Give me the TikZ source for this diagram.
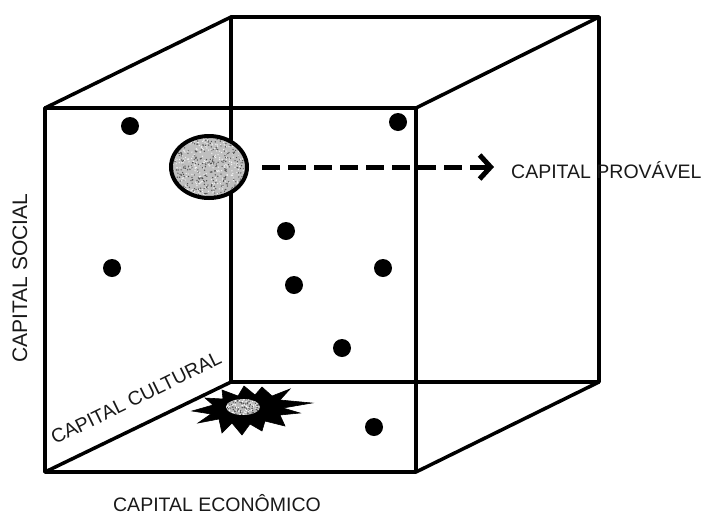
\documentclass[tikz,border=0pt]{standalone}
\usepackage{fontspec}
\setmainfont{Liberation Sans}
\usetikzlibrary{arrows.meta,shapes.geometric}
\begin{document}
\begin{tikzpicture}[x=1pt,y=-1pt,
  edge/.style={line width=3.5pt,line cap=round,line join=round},
  dot/.style={circle,fill=black,inner sep=0pt,minimum size=18pt},
  lbl/.style={font=\fontsize{19.5}{21}\selectfont,inner sep=0pt,text=black!90}]
\useasboundingbox[fill=white] (0,0) rectangle (702,515);
% cube corners
\coordinate (f1) at (45,108);
\coordinate (f2) at (416,108);
\coordinate (f3) at (416,472);
\coordinate (f4) at (45,472);
\coordinate (b1) at (231,17);
\coordinate (b2) at (599,17);
\coordinate (b3) at (599,382);
\coordinate (b4) at (231,382);
% back face
\draw[edge] (b1) -- (b2) -- (b3) -- (b4) -- cycle;
% connecting edges
\draw[edge] (f1) -- (b1);
\draw[edge] (f2) -- (b2);
\draw[edge] (f3) -- (b3);
\draw[edge] (f4) -- (b4);
% front face
\draw[edge] (f1) -- (f2) -- (f3) -- (f4) -- cycle;
% dots
\node[dot] (d1) at (130,126) {};
\node[dot] (d2) at (398,122) {};
\node[dot] (d3) at (286,231) {};
\node[dot] (d4) at (112,268) {};
\node[dot] (d5) at (294,285) {};
\node[dot] (d6) at (383,268) {};
\node[dot] (d7) at (342,348) {};
\node[dot] (d8) at (374,427) {};
% ellipse
\node[ellipse,fill=gray!50,minimum width=76pt,minimum height=62pt,inner sep=0pt] (ell) at (209,167) {};
\begin{scope}
\clip (209,167) ellipse [x radius=38pt,y radius=31pt];
\pgfmathsetseed{7}
\foreach \i in {1,...,350} {
  \fill[black!70] (171+76*rnd,136+62*rnd) circle[radius=0.7pt];
  \fill[white!90!gray] (171+76*rnd,136+62*rnd) circle[radius=0.7pt];
}
\end{scope}
\draw[line width=4pt] (ell.center) ellipse [x radius=38pt,y radius=31pt];
% arrow
\coordinate (tip) at (494,167);
\draw[line width=5pt,dash pattern=on 18pt off 8pt,-{Straight Barb[length=11pt,width=24pt,line width=5pt]}] ([xshift=15pt]ell.east) -- (tip);
% starburst
\draw[fill=black,line width=0.6pt,line join=miter] (312,403) -- (280,400) -- (290,389) -- (272,396) -- (262,387) -- (255,395) -- (244,386) -- (238,396) -- (222,390) -- (223,399) -- (205,398) -- (213,405) -- (192,411) -- (211,414) -- (198,423) -- (219,419) -- (222,433) -- (232,423) -- (242,435) -- (250,424) -- (262,431) -- (265,421) -- (285,426) -- (280,415) -- (300,413) -- (283,408) -- cycle;
\node[ellipse,fill=gray!55,minimum width=34pt,minimum height=16pt,inner sep=0pt] (burst) at (243,407) {};
\begin{scope}
\clip (243,407) ellipse [x radius=17pt,y radius=8pt];
\pgfmathsetseed{3}
\foreach \i in {1,...,80} {
  \fill[black!70] (226+34*rnd,399+16*rnd) circle[radius=0.7pt];
  \fill[white] (226+34*rnd,399+16*rnd) circle[radius=0.7pt];
}
\end{scope}
% labels
\node[lbl,anchor=west] (prov) at (511,170) {CAPITAL PROVÁVEL};
\node[lbl] (eco) at (217,503) {CAPITAL ECONÔMICO};
\node[lbl,rotate=90,font=\fontsize{21}{23}\selectfont] (soc) at (20,278) {CAPITAL SOCIAL};
\node[lbl,rotate=26] (cul) at (136,398) {CAPITAL CULTURAL};
\end{tikzpicture}
\end{document}
